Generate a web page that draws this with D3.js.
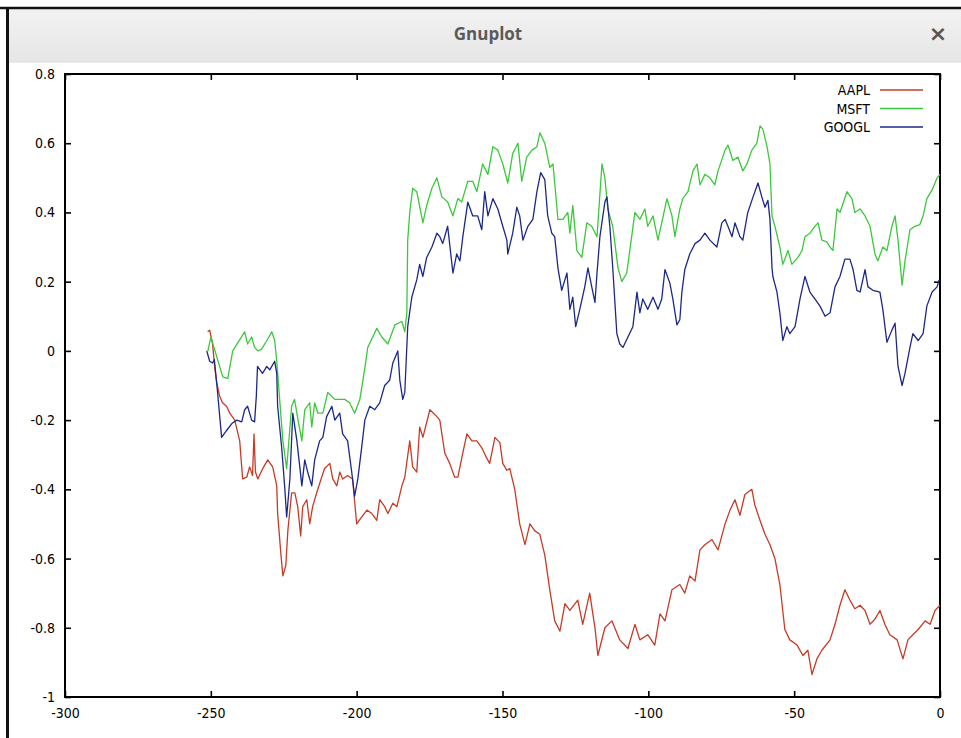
<!DOCTYPE html>
<html><head><meta charset="utf-8">
<script src="https://cdn.jsdelivr.net/npm/d3@7"></script>
<style>
body{margin:0;background:#fff;}
svg{display:block}
</style></head><body>
<svg id="c" width="961" height="738"></svg>
<script>
// ---- data ----
const xTicks = [-300,-250,-200,-150,-100,-50,0];
const yTicks = [-1,-0.8,-0.6,-0.4,-0.2,0,0.2,0.4,0.6,0.8];
const seriesNames = ["AAPL","MSFT","GOOGL"];
const windowTitle = "Gnuplot";

const aapl = [[-251.1,0.055],[-250.4,0.06],[-249.4,0.02],[-248.7,-0.045],[-248,-0.09],[-247,-0.13],[-246,-0.15],[-244.6,-0.16],[-243.5,-0.18],[-241.8,-0.2],[-240.1,-0.26],[-239.1,-0.37],[-237.7,-0.365],[-236.7,-0.335],[-235.7,-0.36],[-235.2,-0.24],[-234.7,-0.35],[-233.9,-0.37],[-232.2,-0.34],[-230.5,-0.315],[-228.8,-0.335],[-227.4,-0.39],[-227.1,-0.47],[-226,-0.585],[-225.3,-0.65],[-224.3,-0.62],[-223.6,-0.52],[-222.3,-0.41],[-221.2,-0.41],[-220.2,-0.45],[-219.2,-0.535],[-218.5,-0.45],[-217.1,-0.43],[-216.1,-0.5],[-215.1,-0.45],[-213.7,-0.41],[-212,-0.365],[-211,-0.34],[-209.2,-0.325],[-208.2,-0.37],[-206.8,-0.39],[-205.8,-0.35],[-204.8,-0.37],[-203.1,-0.36],[-201.4,-0.37],[-200,-0.5],[-198.3,-0.48],[-196.5,-0.46],[-194.8,-0.47],[-193.1,-0.49],[-192.1,-0.43],[-190.4,-0.45],[-189.3,-0.47],[-187.6,-0.44],[-186.2,-0.45],[-184.5,-0.39],[-183.5,-0.365],[-181.8,-0.26],[-180.8,-0.335],[-179.4,-0.35],[-178.4,-0.22],[-177.3,-0.25],[-174.9,-0.17],[-172.5,-0.19],[-171.5,-0.2],[-169.8,-0.295],[-168.1,-0.325],[-166.4,-0.365],[-165.3,-0.365],[-163.6,-0.295],[-162.2,-0.24],[-160.5,-0.26],[-158.8,-0.26],[-157.1,-0.28],[-155.4,-0.31],[-154.4,-0.325],[-152.6,-0.25],[-150.9,-0.265],[-149.9,-0.325],[-148.5,-0.345],[-147.5,-0.34],[-145.8,-0.4],[-144.1,-0.5],[-142.3,-0.56],[-140.6,-0.5],[-138.9,-0.52],[-137.2,-0.53],[-135.5,-0.59],[-133.8,-0.69],[-132.1,-0.78],[-130.3,-0.81],[-128.6,-0.73],[-126.9,-0.75],[-124.2,-0.72],[-122.5,-0.79],[-120.1,-0.7],[-118.3,-0.8],[-117.3,-0.88],[-114.9,-0.8],[-112.5,-0.78],[-109.8,-0.835],[-107,-0.86],[-104.6,-0.79],[-102.9,-0.835],[-100.2,-0.82],[-97.8,-0.85],[-96,-0.76],[-94.3,-0.78],[-91.9,-0.69],[-89.2,-0.675],[-87.5,-0.7],[-85.8,-0.65],[-84,-0.665],[-82.3,-0.575],[-80.6,-0.56],[-78.2,-0.545],[-76.1,-0.575],[-73.7,-0.5],[-72,-0.46],[-70.3,-0.43],[-68.6,-0.475],[-66.9,-0.415],[-64.5,-0.4],[-63.5,-0.445],[-61.7,-0.49],[-60,-0.53],[-58.3,-0.56],[-56.6,-0.6],[-54.9,-0.675],[-53.2,-0.805],[-51.5,-0.835],[-49,-0.85],[-47,-0.88],[-45.3,-0.865],[-43.9,-0.935],[-42.2,-0.89],[-40.5,-0.865],[-37.7,-0.835],[-36,-0.79],[-34.3,-0.735],[-32.6,-0.69],[-30.9,-0.72],[-29.2,-0.745],[-27.4,-0.735],[-25.7,-0.75],[-24,-0.79],[-22.3,-0.775],[-20.6,-0.75],[-18.9,-0.79],[-17.2,-0.82],[-14.7,-0.835],[-12.7,-0.89],[-11,-0.835],[-9.3,-0.82],[-7.5,-0.805],[-5.1,-0.78],[-3.4,-0.79],[-1.7,-0.75],[0,-0.735]];

const msft = [[-251,0],[-250,0.04],[-245.9,-0.075],[-244.2,-0.08],[-242.5,0],[-238.4,0.055],[-237.4,0.02],[-236,0.04],[-235,0.01],[-233.9,0],[-232.6,0.005],[-230.8,0.03],[-229.1,0.055],[-228.1,0.03],[-227.4,-0.03],[-226.4,-0.14],[-225.3,-0.26],[-224,-0.34],[-222.3,-0.16],[-221.3,-0.14],[-220.3,-0.19],[-218.8,-0.26],[-217.8,-0.17],[-216.1,-0.15],[-215.4,-0.22],[-214.4,-0.15],[-213.3,-0.18],[-211.6,-0.18],[-209.9,-0.12],[-207.5,-0.14],[-204.1,-0.14],[-202.4,-0.15],[-200.7,-0.18],[-198.9,-0.14],[-197.2,-0.05],[-196.2,0.01],[-193.1,0.065],[-191.4,0.04],[-189.3,0.02],[-186.9,0.075],[-184.5,0.085],[-183.5,0.055],[-182.8,0.11],[-182.5,0.32],[-181.8,0.4],[-180.8,0.47],[-179.4,0.46],[-177.3,0.37],[-176,0.42],[-174.2,0.47],[-172.5,0.5],[-170.8,0.445],[-168.8,0.43],[-167,0.39],[-165.3,0.44],[-164,0.43],[-161.9,0.49],[-160.2,0.49],[-158.8,0.46],[-156.8,0.54],[-155,0.51],[-153.3,0.59],[-151.6,0.58],[-149.9,0.54],[-148.2,0.485],[-146.5,0.57],[-144.7,0.6],[-143.4,0.49],[-141.7,0.56],[-139.9,0.58],[-138.2,0.59],[-137.2,0.63],[-135.5,0.6],[-133.8,0.53],[-132.7,0.54],[-131.4,0.42],[-131,0.38],[-129.3,0.38],[-127.6,0.4],[-126.9,0.34],[-125.9,0.42],[-124.5,0.29],[-122.8,0.27],[-121.1,0.37],[-119.4,0.36],[-117.6,0.33],[-115.9,0.54],[-114.9,0.5],[-113.9,0.41],[-112.2,0.36],[-110.4,0.24],[-109.1,0.2],[-107.4,0.225],[-104.6,0.4],[-102.9,0.38],[-101.2,0.41],[-100.2,0.36],[-98.4,0.39],[-96.7,0.32],[-93.6,0.44],[-91.9,0.39],[-90.9,0.33],[-89.2,0.41],[-88.2,0.44],[-86.4,0.46],[-84.7,0.52],[-83.3,0.54],[-82.3,0.48],[-80.6,0.51],[-78.9,0.5],[-77.2,0.48],[-76.1,0.52],[-73.7,0.58],[-72.7,0.595],[-71,0.55],[-69.3,0.56],[-67.6,0.52],[-66.2,0.54],[-64.5,0.58],[-62.8,0.6],[-61.7,0.65],[-60.7,0.64],[-59.3,0.59],[-58.3,0.54],[-57.6,0.39],[-56.6,0.36],[-54.9,0.3],[-53.9,0.25],[-52.1,0.29],[-50.8,0.25],[-48.7,0.27],[-47.3,0.29],[-46.3,0.33],[-44.6,0.34],[-42.9,0.36],[-41.8,0.37],[-40.5,0.32],[-38.8,0.315],[-37.7,0.3],[-36.7,0.29],[-35.3,0.41],[-34.3,0.4],[-31.9,0.46],[-30.2,0.44],[-29.2,0.4],[-27.4,0.41],[-25.7,0.39],[-24,0.36],[-22.3,0.28],[-21.3,0.26],[-19.6,0.3],[-18.2,0.29],[-16.5,0.36],[-15.4,0.39],[-14.4,0.32],[-13,0.19],[-12,0.26],[-10.3,0.35],[-8.6,0.36],[-6.9,0.365],[-5.8,0.39],[-4.5,0.44],[-2.7,0.465],[-1,0.5],[0,0.51]];

const googl = [[-251.4,0],[-250.4,-0.03],[-249.4,-0.035],[-248.8,-0.025],[-247.8,-0.11],[-246.3,-0.25],[-244.6,-0.23],[-242.8,-0.21],[-241.1,-0.2],[-239.4,-0.205],[-238.4,-0.17],[-237.4,-0.16],[-236,-0.2],[-235,-0.205],[-234.4,-0.13],[-234,-0.045],[-232.3,-0.065],[-230.8,-0.045],[-229.8,-0.055],[-228.1,-0.03],[-227.4,-0.065],[-227.1,-0.16],[-225.7,-0.28],[-224.7,-0.39],[-224,-0.48],[-222.9,-0.37],[-221.9,-0.18],[-220.5,-0.26],[-219.5,-0.335],[-218.8,-0.39],[-217.8,-0.315],[-216.8,-0.35],[-215.4,-0.39],[-214.4,-0.315],[-212.7,-0.26],[-211.6,-0.25],[-210.3,-0.19],[-208.5,-0.16],[-207.5,-0.2],[-205.8,-0.18],[-204.8,-0.24],[-203.1,-0.26],[-201.7,-0.35],[-200.7,-0.42],[-199.6,-0.37],[-198.3,-0.28],[-197.2,-0.2],[-195.5,-0.16],[-193.8,-0.17],[-192.1,-0.15],[-190.4,-0.1],[-188.7,-0.085],[-187.6,-0.035],[-185.9,0],[-185.2,-0.085],[-184.2,-0.14],[-183.5,-0.12],[-182.5,0.07],[-181.1,0.155],[-179.4,0.205],[-178.4,0.25],[-177.3,0.215],[-176,0.27],[-174.2,0.3],[-172.5,0.34],[-171.5,0.33],[-170.5,0.31],[-168.8,0.36],[-167,0.225],[-165.7,0.28],[-164.6,0.26],[-163.6,0.33],[-161.9,0.43],[-160.2,0.39],[-158.5,0.39],[-157.1,0.35],[-156.1,0.46],[-155,0.39],[-153.3,0.44],[-151.6,0.41],[-149.9,0.36],[-148.5,0.32],[-148.2,0.28],[-146.5,0.34],[-145.1,0.415],[-144.1,0.39],[-143,0.32],[-141.3,0.36],[-139.6,0.38],[-138.2,0.46],[-136.9,0.515],[-135.5,0.495],[-134.5,0.39],[-133.1,0.34],[-132.1,0.33],[-131,0.24],[-129.7,0.175],[-127.9,0.225],[-126.9,0.12],[-125.9,0.155],[-124.9,0.07],[-123.5,0.12],[-121.8,0.185],[-120.7,0.24],[-119.4,0.185],[-118.3,0.14],[-117.6,0.225],[-116.6,0.33],[-114.9,0.43],[-114.2,0.445],[-113.2,0.36],[-112.2,0.24],[-110.8,0.05],[-109.8,0.02],[-108.7,0.01],[-107,0.04],[-105.3,0.07],[-103.9,0.17],[-102.9,0.11],[-101.9,0.15],[-100.2,0.12],[-98.4,0.155],[-96.7,0.12],[-95.4,0.15],[-94.3,0.235],[-92.6,0.195],[-91.6,0.15],[-90.2,0.075],[-89.2,0.09],[-88.5,0.17],[-87.5,0.235],[-85.8,0.28],[-84,0.31],[-82.3,0.32],[-80.6,0.34],[-78.9,0.32],[-76.5,0.3],[-74.8,0.37],[-73.7,0.38],[-72.7,0.36],[-71.3,0.33],[-70.3,0.37],[-68.6,0.33],[-67.6,0.32],[-65.9,0.4],[-64.1,0.445],[-62.4,0.485],[-61.1,0.445],[-60,0.415],[-59,0.435],[-58.3,0.38],[-57.6,0.24],[-57.3,0.215],[-55.9,0.17],[-54.9,0.11],[-53.9,0.03],[-52.5,0.07],[-51.5,0.05],[-49.7,0.07],[-48,0.15],[-46.3,0.215],[-44.6,0.17],[-42.9,0.15],[-41.2,0.13],[-39.4,0.1],[-37.7,0.11],[-36,0.185],[-34.3,0.215],[-32.6,0.265],[-30.9,0.265],[-29.8,0.235],[-28.5,0.175],[-27.4,0.17],[-25.7,0.235],[-24.7,0.185],[-23,0.175],[-20.6,0.17],[-19.6,0.12],[-18.2,0.025],[-16.5,0.06],[-15.4,0.08],[-14.4,-0.045],[-13,-0.1],[-12,-0.065],[-10.3,0.01],[-9.3,0.05],[-7.5,0.03],[-5.8,0.05],[-4.5,0.13],[-2.7,0.17],[-1,0.185],[-0.3,0.205]];

const seriesData = [aapl, msft, googl];
const seriesColors = ["#c43c28", "#3cc83c", "#1c2888"];

// ---- drawing ----
const svg = d3.select("#c");
const W = 961, H = 738;
const L = 65, R = 940, T = 74, B = 697;
const tickFont = "'DejaVu Sans Condensed','Liberation Sans Narrow',sans-serif";

// window chrome
svg.append("rect").attr("width", W).attr("height", H).attr("fill", "#ffffff");
const grad = svg.append("defs").append("linearGradient").attr("id","tb").attr("x1",0).attr("y1",0).attr("x2",0).attr("y2",1);
grad.append("stop").attr("offset","0%").attr("stop-color","#f2f2f2");
grad.append("stop").attr("offset","100%").attr("stop-color","#e6e6e6");
svg.append("rect").attr("x", 8).attr("y", 9).attr("width", W - 8).attr("height", 53).attr("fill", "url(#tb)");
svg.append("line").attr("x1", 8).attr("x2", W).attr("y1", 62).attr("y2", 62).attr("stroke", "#dcdcdc");
svg.append("line").attr("x1", 0).attr("x2", W).attr("y1", 8).attr("y2", 8).attr("stroke", "#111").attr("stroke-width", 2.5);
svg.append("line").attr("x1", 7.5).attr("x2", 7.5).attr("y1", 7).attr("y2", H).attr("stroke", "#111").attr("stroke-width", 3);
svg.append("text").attr("x", 488).attr("y", 33).attr("text-anchor", "middle").attr("dominant-baseline", "central")
  .attr("font-family", "'Open Sans','DejaVu Sans',sans-serif").attr("font-weight", "bold").attr("font-size", 17)
  .attr("fill", "#5a5a5a").text(windowTitle);
svg.append("text").attr("x", 938).attr("y", 33).attr("text-anchor", "middle").attr("dominant-baseline", "central")
  .attr("font-family", "'DejaVu Sans',sans-serif").attr("font-weight", "bold").attr("font-size", 22)
  .attr("fill", "#555").text("\u00d7");

// scales
const x = d3.scaleLinear().domain([-300, 0]).range([L, R]);
const y = d3.scaleLinear().domain([-1, 0.8]).range([B, T]);

function styleAxis(g) {
  g.select(".domain").remove();
  g.selectAll(".tick line").attr("stroke", "#000").attr("stroke-width", 1.6);
  g.selectAll(".tick text").attr("fill", "#000").attr("font-family", tickFont).attr("font-size", 14);
}
svg.append("g").attr("transform", `translate(${L},0)`)
  .call(d3.axisLeft(y).tickValues(yTicks).tickSize(-6).tickPadding(10).tickFormat(d => String(d)))
  .call(styleAxis);
svg.append("g").attr("transform", `translate(${R},0)`)
  .call(d3.axisRight(y).tickValues(yTicks).tickSize(-6).tickFormat(""))
  .call(styleAxis);
svg.append("g").attr("transform", `translate(0,${B})`)
  .call(d3.axisBottom(x).tickValues(xTicks).tickSize(-6).tickPadding(11).tickFormat(d => String(d)))
  .call(styleAxis);
svg.append("g").attr("transform", `translate(0,${T})`)
  .call(d3.axisTop(x).tickValues(xTicks).tickSize(-6).tickFormat(""))
  .call(styleAxis);

// frame
svg.append("rect").attr("x", L).attr("y", T).attr("width", R - L).attr("height", B - T)
  .attr("fill", "none").attr("stroke", "#000").attr("stroke-width", 2);

// lines
const line = d3.line().x(d => x(d[0])).y(d => y(d[1]));
seriesData.forEach((s, i) => {
  svg.append("path").datum(s).attr("d", line).attr("fill", "none")
    .attr("stroke", seriesColors[i]).attr("stroke-width", 1.3).attr("stroke-linejoin", "round");
});

// legend
seriesNames.forEach((n, i) => {
  const yy = 90 + i * 18.5;
  svg.append("text").attr("x", 870).attr("y", yy).attr("text-anchor", "end").attr("dominant-baseline", "central")
    .attr("font-family", tickFont).attr("font-size", 14).attr("fill", "#000").text(n);
  svg.append("line").attr("x1", 880).attr("x2", 923).attr("y1", yy).attr("y2", yy)
    .attr("stroke", seriesColors[i]).attr("stroke-width", 1.3);
});
</script>
</body></html>
